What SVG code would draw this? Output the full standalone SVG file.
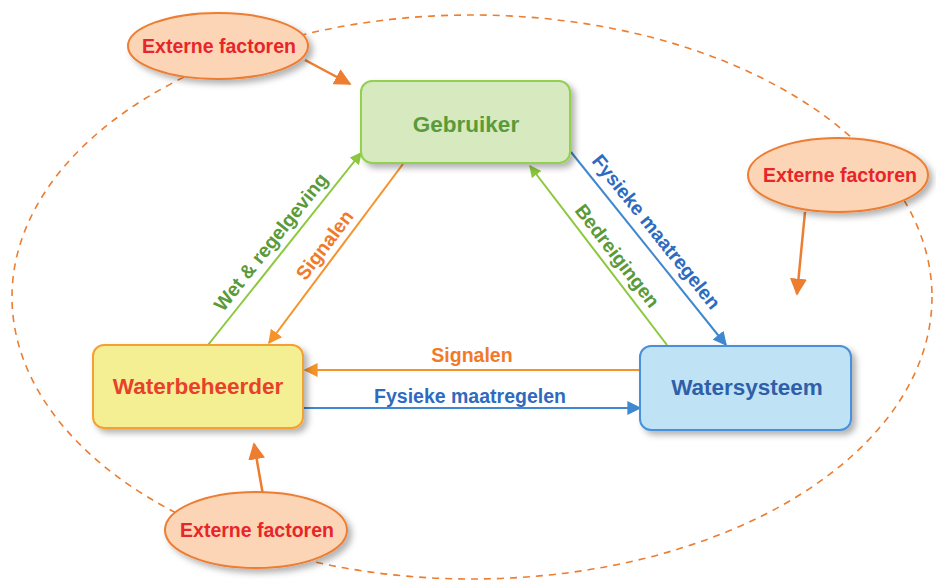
<svg xmlns="http://www.w3.org/2000/svg" width="936" height="582" viewBox="0 0 936 582">
<style>
text{font-family:"Liberation Sans",Arial,sans-serif;font-weight:bold;}
.lbl{font-size:19.5px;text-anchor:middle;}
.node{font-size:22.5px;text-anchor:middle;}
.ef{font-size:19.5px;fill:#e8262a;text-anchor:middle;}
.efe{fill:#fbd5b5;stroke:#ed7d31;stroke-width:2;}
</style>
<defs>
<filter id="sh" x="-20%" y="-20%" width="150%" height="160%">
<feDropShadow dx="4" dy="4" stdDeviation="3" flood-color="#000" flood-opacity="0.3"/>
</filter>
<marker id="ag" viewBox="0 0 10 10" refX="9" refY="5" markerWidth="12" markerHeight="12" markerUnits="userSpaceOnUse" orient="auto"><path d="M0,0 L10,5 L0,10 z" fill="#8cc83c"/></marker>
<marker id="ao" viewBox="0 0 10 10" refX="9" refY="5" markerWidth="14" markerHeight="14" markerUnits="userSpaceOnUse" orient="auto"><path d="M0,0 L10,5 L0,10 z" fill="#f5922a"/></marker>
<marker id="ab" viewBox="0 0 10 10" refX="9" refY="5" markerWidth="14" markerHeight="14" markerUnits="userSpaceOnUse" orient="auto"><path d="M0,0 L10,5 L0,10 z" fill="#3f88d0"/></marker>
<marker id="ar" viewBox="0 0 10 10" refX="9" refY="5" markerWidth="17" markerHeight="17" markerUnits="userSpaceOnUse" orient="auto"><path d="M0,0 L10,5 L0,10 z" fill="#ed7d31"/></marker>
</defs>
<rect width="936" height="582" fill="#fff"/>
<ellipse cx="472" cy="297" rx="460" ry="282" fill="none" stroke="#ed7d31" stroke-width="1.6" stroke-dasharray="7,6"/>
<g id="connectors" fill="none" stroke-width="2">
<line x1="208" y1="345" x2="361" y2="153" stroke="#8cc83c" marker-end="url(#ag)"/>
<line x1="403" y1="164" x2="269" y2="343" stroke="#f5922a" marker-end="url(#ao)"/>
<line x1="571" y1="152" x2="726" y2="345" stroke="#3f88d0" marker-end="url(#ab)"/>
<line x1="667" y1="345" x2="530" y2="166" stroke="#8cc83c" marker-end="url(#ag)"/>
<line x1="640" y1="370" x2="305" y2="370" stroke="#f5922a" marker-end="url(#ao)"/>
<line x1="304" y1="408" x2="640" y2="408" stroke="#3f88d0" marker-end="url(#ab)"/>
<line x1="305" y1="60" x2="350" y2="84" stroke="#ed7d31" stroke-width="2.5" marker-end="url(#ar)"/>
<line x1="805" y1="212" x2="797" y2="294" stroke="#ed7d31" stroke-width="2.5" marker-end="url(#ar)"/>
<line x1="263" y1="495" x2="254" y2="444" stroke="#ed7d31" stroke-width="2.5" marker-end="url(#ar)"/>
<text class="lbl" fill="#5a9a3a" transform="translate(276,246) rotate(-51.5)">Wet &amp; regelgeving</text>
<text class="lbl" fill="#f07a2a" transform="translate(330,249) rotate(-53)">Signalen</text>
<text class="lbl" fill="#2e6bc0" transform="translate(651,236) rotate(51.2)">Fysieke maatregelen</text>
<text class="lbl" fill="#5a9a3a" transform="translate(612,260) rotate(52.3)">Bedreigingen</text>
<text class="lbl" fill="#f07a2a" x="472" y="362">Signalen</text>
<text class="lbl" fill="#2e6bc0" x="470" y="403">Fysieke maatregelen</text>
</g>
<g id="gebruiker">
<rect x="361" y="81" width="209" height="82" rx="11" fill="#d7e9bf" stroke="#92d050" stroke-width="2" filter="url(#sh)"/>
<text class="node" x="466" y="132" fill="#5a9a3a">Gebruiker</text>
</g>
<g id="waterbeheerder">
<rect x="93" y="345" width="210" height="83" rx="11" fill="#f4ef92" stroke="#f5a030" stroke-width="2" filter="url(#sh)"/>
<text class="node" x="198" y="394" fill="#e8402a">Waterbeheerder</text>
</g>
<g id="watersysteem">
<rect x="640" y="346" width="211" height="84" rx="11" fill="#bfe3f5" stroke="#4a90d9" stroke-width="2" filter="url(#sh)"/>
<text class="node" x="747" y="395" fill="#2e5fa8">Watersysteem</text>
</g>
<g id="externe1">
<ellipse class="efe" cx="218" cy="46" rx="90" ry="33" filter="url(#sh)"/>
<text class="ef" x="219" y="53">Externe factoren</text>
</g>
<g id="externe2">
<ellipse class="efe" cx="838" cy="175" rx="90" ry="37" filter="url(#sh)"/>
<text class="ef" x="840" y="182">Externe factoren</text>
</g>
<g id="externe3">
<ellipse class="efe" cx="256" cy="530" rx="91" ry="38" filter="url(#sh)"/>
<text class="ef" x="257" y="537">Externe factoren</text>
</g>
</svg>
